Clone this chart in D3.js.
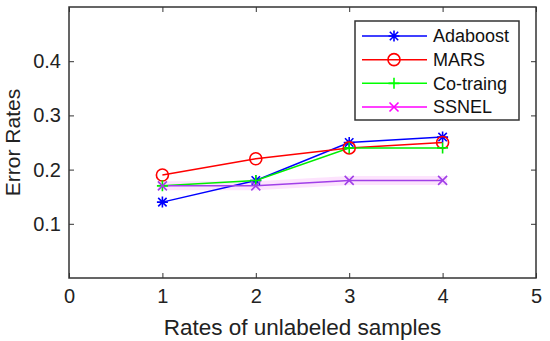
<!DOCTYPE html>
<html><head><meta charset="utf-8">
<script src="https://cdn.jsdelivr.net/npm/d3@7"></script>
<style>body{margin:0;background:#fff}svg{display:block}text{font-family:"Liberation Sans",Arial,sans-serif}</style>
</head><body><svg id="c" width="550" height="341"></svg>
<script>
const xCats = [1, 2, 3, 4];
const adaboost = [0.14, 0.18, 0.25, 0.26];
const mars = [0.19, 0.22, 0.24, 0.25];
const cotraing = [0.17, 0.18, 0.24, 0.24];
const ssnel = [0.17, 0.17, 0.18, 0.18];
const xTicks = [0, 1, 2, 3, 4, 5];
const yTicks = [0.1, 0.2, 0.3, 0.4];
const seriesNames = ["Adaboost", "MARS", "Co-traing", "SSNEL"];

const series = [
  {name: seriesNames[0], vals: adaboost, color: "#0000ff", legendColor: "#0000ff", marker: "star"},
  {name: seriesNames[1], vals: mars, color: "#ff0000", legendColor: "#ff0000", marker: "circle"},
  {name: seriesNames[2], vals: cotraing, color: "#00ee00", legendColor: "#00ff00", marker: "plus"},
  {name: seriesNames[3], vals: ssnel, color: "#a040e8", legendColor: "#ff00ff", marker: "cross", band: "#fcdcfc"}
];

const svg = d3.select("#c");
const L = 69, R = 536, T = 7, B = 278;
const x = d3.scaleLinear().domain([0, 5]).range([L, R]);
const y = d3.scaleLinear().domain([0, 0.5]).range([B, T]);
const axisColor = "#333";

// bands (render artifacts seen behind SSNEL)
const line = d3.line().x((d, i) => x(xCats[i])).y(d => y(d));
series.filter(s => s.band).forEach(s => {
  svg.append("path").attr("d", line(s.vals)).attr("fill", "none")
    .attr("stroke", s.band).attr("stroke-width", 9).attr("stroke-linecap", "square").attr("opacity", 0.8);
});

function drawMarker(g, type, cx, cy, color) {
  const s = 5.5;
  if (type === "circle") {
    g.append("circle").attr("cx", cx).attr("cy", cy).attr("r", 6).attr("fill", "none").attr("stroke", color).attr("stroke-width", 1.6);
  } else if (type === "plus") {
    g.append("path").attr("d", `M${cx - s},${cy}H${cx + s}M${cx},${cy - s}V${cy + s}`).attr("stroke", color).attr("stroke-width", 1.6);
  } else if (type === "cross") {
    const k = 4.5;
    g.append("path").attr("d", `M${cx - k},${cy - k}L${cx + k},${cy + k}M${cx - k},${cy + k}L${cx + k},${cy - k}`).attr("stroke", color).attr("stroke-width", 1.6);
  } else if (type === "star") {
    const k = 4.2;
    g.append("path").attr("d", `M${cx - s},${cy}H${cx + s}M${cx},${cy - s}V${cy + s}M${cx - k},${cy - k}L${cx + k},${cy + k}M${cx - k},${cy + k}L${cx + k},${cy - k}`).attr("stroke", color).attr("stroke-width", 1.6);
  }
}

// lines
series.forEach(s => {
  svg.append("path").attr("d", line(s.vals)).attr("fill", "none").attr("stroke", s.color).attr("stroke-width", 1.5);
});
series.forEach(s => {
  const g = svg.append("g");
  s.vals.forEach((v, i) => drawMarker(g, s.marker, x(xCats[i]), y(v), s.color));
});

// axes
const fs = 20;
const ax = svg.append("g");
ax.append("g").attr("transform", `translate(0,${B})`)
  .call(d3.axisBottom(x).tickValues(xTicks).tickSize(-5).tickPadding(11).tickFormat(d3.format("d")))
  .call(g => { g.select(".domain").remove(); g.selectAll("text").attr("font-size", fs).attr("fill", "#222").attr("font-family", "Liberation Sans, Arial"); g.selectAll("line").attr("stroke", axisColor); });
ax.append("g").attr("transform", `translate(${L},0)`)
  .call(d3.axisLeft(y).tickValues(yTicks).tickSize(-5).tickPadding(8).tickFormat(d3.format(".1f")))
  .call(g => { g.select(".domain").remove(); g.selectAll("text").attr("font-size", fs).attr("fill", "#222").attr("font-family", "Liberation Sans, Arial"); g.selectAll("line").attr("stroke", axisColor); });
// mirrored ticks top/right
ax.append("g").attr("transform", `translate(0,${T})`)
  .call(d3.axisTop(x).tickValues(xTicks).tickSize(-5).tickFormat(""))
  .call(g => { g.select(".domain").remove(); g.selectAll("line").attr("stroke", axisColor); });
ax.append("g").attr("transform", `translate(${R},0)`)
  .call(d3.axisRight(y).tickValues(yTicks).tickSize(-5).tickFormat(""))
  .call(g => { g.select(".domain").remove(); g.selectAll("line").attr("stroke", axisColor); });
svg.append("rect").attr("x", L).attr("y", T).attr("width", R - L).attr("height", B - T)
  .attr("fill", "none").attr("stroke", axisColor).attr("stroke-width", 1.5);

// axis labels
svg.append("text").attr("x", (L + R) / 2).attr("y", 335).attr("text-anchor", "middle")
  .attr("font-size", 22.5).attr("fill", "#222").text("Rates of unlabeled samples");
svg.append("text").attr("transform", `translate(20,${(T + B) / 2}) rotate(-90)`).attr("text-anchor", "middle")
  .attr("font-size", 21).attr("fill", "#222").text("Error Rates");

// legend
const lg = svg.append("g");
lg.append("rect").attr("x", 355).attr("y", 21).attr("width", 164).attr("height", 99)
  .attr("fill", "#fff").attr("stroke", axisColor).attr("stroke-width", 1.5);
const ly = d3.scaleLinear().domain([0, 3]).range([36, 107]);
series.forEach((s, i) => {
  const yy = ly(i);
  lg.append("line").attr("x1", 362).attr("x2", 427).attr("y1", yy).attr("y2", yy).attr("stroke", s.legendColor).attr("stroke-width", 1.5);
  drawMarker(lg, s.marker, 394, yy, s.legendColor);
  lg.append("text").attr("x", 433).attr("y", yy).attr("dy", "0.36em").attr("font-size", 18).attr("fill", "#111").text(s.name);
});
</script></body></html>
